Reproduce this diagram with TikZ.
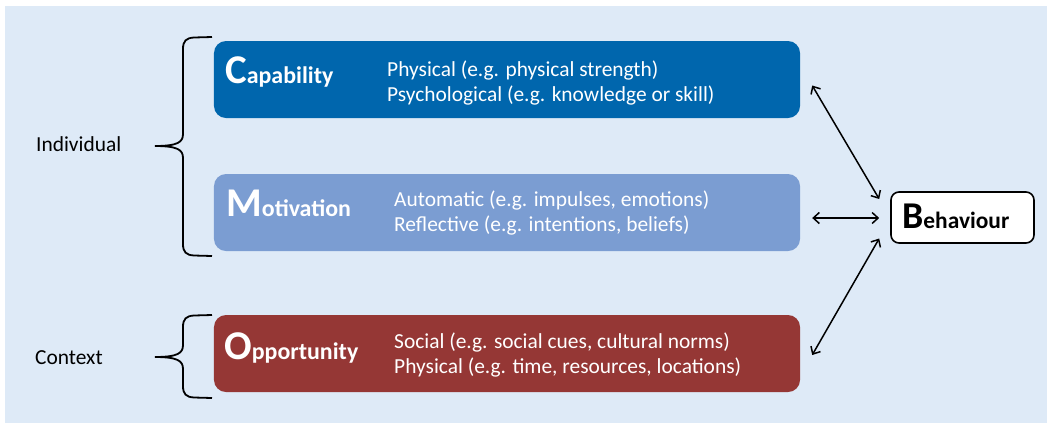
\documentclass[tikz,border=0pt]{standalone}
\usepackage{fontspec}
\setmainfont{Carlito}
\usetikzlibrary{arrows.meta,calc}
\definecolor{bgc}{RGB}{222,234,247}
\definecolor{capc}{RGB}{0,102,173}
\definecolor{motc}{RGB}{123,157,210}
\definecolor{oppc}{RGB}{149,55,53}
\tikzset{
  cbox/.style={rounded corners=12bp, minimum width=586bp, minimum height=77bp, inner sep=0, draw=none},
  bbox/.style={rounded corners=8bp, minimum width=143bp, minimum height=51bp, inner sep=0, draw=black, line width=1.6bp, fill=white},
  desc/.style={anchor=base west, inner sep=0, text=white, font=\fontsize{21.5}{25}\selectfont},
  side/.style={anchor=base west, inner sep=0, text=black, font=\fontsize{21.5}{25}\selectfont},
  ttl/.style={anchor=base west, inner sep=0, font=\bfseries},
  brace/.style={line width=1.8bp, draw=black},
  link/.style={line width=1.5bp, {Straight Barb[length=6bp,width=11bp]}-{Straight Barb[length=6bp,width=11bp]}}
}
\newcommand{\initl}[1]{{\fontsize{41}{41}\selectfont #1}}
\newcommand{\restl}[1]{{\fontsize{24}{24}\selectfont #1}}
\begin{document}
\begin{tikzpicture}[x=1bp,y=-1bp]
\useasboundingbox (0,0) rectangle (1052,425);
\fill[bgc] (5,6) rectangle (1047,423);
% boxes
\node[cbox, fill=capc] (cap) at (507,79.5) {};
\node[cbox, fill=motc] (mot) at (507,212.5) {};
\node[cbox, fill=oppc] (opp) at (507,353.5) {};
\node[bbox] (beh) at (962.5,217.5) {};
% titles
\node[ttl, text=white] (capt) at (225,83) {\initl{C}\restl{apability}};
\node[ttl, text=white] (mott) at (226,216) {\initl{M}\restl{otivation}};
\node[ttl, text=white] (oppt) at (224,359) {\initl{O}\restl{pportunity}};
\node[ttl, text=black] (beht) at (902,228) {{\fontsize{38}{38}\selectfont B}{\fontsize{23.5}{23.5}\selectfont ehaviour}};
% descriptions
\node[desc] (c1) at (387,76) {Physical (e.g. physical strength)};
\node[desc] (c2) at (387,101) {Psychological (e.g. knowledge or skill)};
\node[desc] (m1) at (394,206) {Automatic (e.g. impulses, emotions)};
\node[desc] (m2) at (394,231) {Reflective (e.g. intentions, beliefs)};
\node[desc] (o1) at (394,348) {Social (e.g. social cues, cultural norms)};
\node[desc] (o2) at (394,373) {Physical (e.g. time, resources, locations)};
% side labels
\node[side] (ind) at (36,151) {Individual};
\node[side] (ctx) at (35,364) {Context};
% braces
\draw[brace] (212,37) -- (194,37.5) .. controls (186,38) and (183,41) .. (183,49) -- (183,134)
  .. controls (183,142) and (178,146) .. (155,146)
  .. controls (178,146) and (183,150) .. (183,158) -- (183,244)
  .. controls (183,252) and (186,255) .. (194,255.5) -- (212,256);
\draw[brace] (212,315) -- (194,315.5) .. controls (186,316) and (183,319) .. (183,327) -- (183,345)
  .. controls (183,353) and (178,357) .. (155,357)
  .. controls (178,357) and (183,361) .. (183,369) -- (183,386)
  .. controls (183,394) and (186,397) .. (194,397.5) -- (212,398);
% arrows
\coordinate (ca) at ($(cap.east)+(12,6)$);
\coordinate (cb) at ($(beh.west)+(-11,-18.5)$);
\coordinate (ma) at ($(mot.east)+(12,5.5)$);
\coordinate (mb) at ($(beh.west)+(-11,0.5)$);
\coordinate (oa) at ($(opp.east)+(12,1.5)$);
\coordinate (ob) at ($(beh.west)+(-11,21)$);
\draw[link] (ca) -- (cb);
\draw[link] (ma) -- (mb);
\draw[link] (oa) -- (ob);
\end{tikzpicture}
\end{document}
